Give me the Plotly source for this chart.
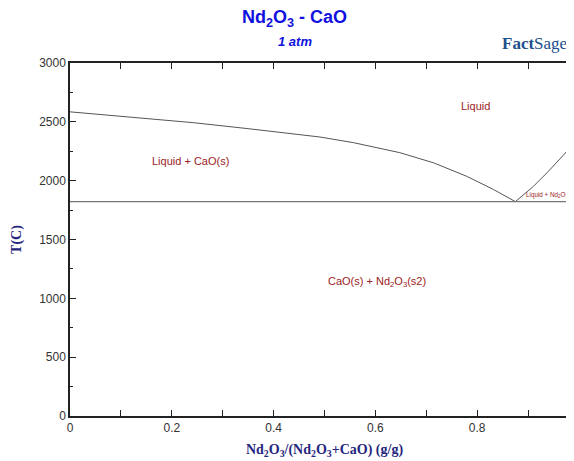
import plotly.graph_objects as go

# CaO-side liquidus (Liquid / Liquid + CaO(s))
liq_cao_x = [0.0, 0.1, 0.242, 0.35, 0.452, 0.491, 0.557, 0.648, 0.714, 0.779, 0.832, 0.875]
liq_cao_T = [2585, 2545, 2493, 2442, 2394, 2371, 2323, 2238, 2152, 2038, 1925, 1822]
# Nd2O3-side liquidus
liq_nd_x = [0.875, 0.91, 0.94, 0.97, 1.0]
liq_nd_T = [1822, 1950, 2080, 2220, 2370]
# eutectic isotherm
eut_x = [0.0, 1.0]
eut_T = [1822, 1822]

x_ticks = [0, 0.2, 0.4, 0.6, 0.8, 1.0]
y_ticks = [0, 500, 1000, 1500, 2000, 2500, 3000]

labels = [
    ("Liquid", 0.796, 2632, 11, "center"),
    ("Liquid + CaO(s)", 0.237, 2166, 11, "center"),
    ("CaO(s) + Nd<sub>2</sub>O<sub>3</sub>(s2)", 0.603, 1136, 11, "center"),
    ("Liquid + Nd<sub>2</sub>O<sub>3</sub>(s2)", 0.892, 1880, 6.3, "left"),
]

fig = go.Figure()
line_style = dict(color="#555555", width=1)
fig.add_trace(go.Scatter(x=liq_cao_x, y=liq_cao_T, mode="lines", line=line_style, showlegend=False, hoverinfo="skip"))
fig.add_trace(go.Scatter(x=liq_nd_x, y=liq_nd_T, mode="lines", line=line_style, showlegend=False, hoverinfo="skip"))
fig.add_trace(go.Scatter(x=eut_x, y=eut_T, mode="lines", line=dict(color="#777777", width=1.2), showlegend=False, hoverinfo="skip"))
# invisible trace on right axis so its ticks render
fig.add_trace(go.Scatter(x=[0], y=[0], yaxis="y2", mode="markers", marker=dict(opacity=0), showlegend=False, hoverinfo="skip"))

for txt, x, y, sz, anchor in labels:
    fig.add_annotation(x=x, y=y, text=txt, showarrow=False, xanchor=anchor,
                       font=dict(family="Liberation Sans, Arial", size=sz, color="#9b1c1c"))

fig.add_annotation(xref="paper", yref="paper", x=0.442, y=1.0, yshift=45, yanchor="middle", showarrow=False,
                   text="<b>Nd<sub>2</sub>O<sub>3</sub> - CaO</b>",
                   font=dict(family="Liberation Sans, Arial", size=18, color="#1010e0"))
fig.add_annotation(xref="paper", yref="paper", x=0.442, y=1.0, yshift=22, yanchor="middle", showarrow=False,
                   text="<b><i>1 atm</i></b>",
                   font=dict(family="Liberation Sans, Arial", size=13, color="#1010e0"))
fig.add_annotation(xref="paper", yref="paper", x=0.845, xanchor="left", y=1.0, yshift=20, yanchor="middle",
                   showarrow=False, text="<b>Fact</b>Sage",
                   font=dict(family="Liberation Serif, Times New Roman", size=17, color="#1c4f8c"))

fig.update_layout(
    width=574, height=461,
    margin=dict(l=62, r=3, t=55, b=53),
    paper_bgcolor="white", plot_bgcolor="white",
    xaxis=dict(range=[0, 1.0], tickvals=x_ticks, ticktext=[str(v) for v in x_ticks],
               ticks="inside", ticklen=6, tickwidth=1.2, tickcolor="#222",
               minor=dict(dtick=0.1, tick0=0, ticks="inside", ticklen=3, tickcolor="#222"),
               showline=True, linecolor="#222", linewidth=1.5, mirror="allticks",
               showgrid=False, zeroline=False,
               tickfont=dict(family="Liberation Sans, Arial", size=12, color="#333"),
               title=dict(text="<b>Nd<sub>2</sub>O<sub>3</sub>/(Nd<sub>2</sub>O<sub>3</sub>+CaO) (g/g)</b>",
                          font=dict(family="Liberation Serif, Times New Roman", size=14, color="#262680"),
                          standoff=10)),
    yaxis=dict(range=[0, 3000], tickvals=y_ticks,
               ticks="inside", ticklen=6, tickwidth=1.2, tickcolor="#222",
               minor=dict(dtick=250, tick0=0, ticks="inside", ticklen=3, tickcolor="#222"),
               showline=True, linecolor="#222", linewidth=1.5,
               showgrid=False, zeroline=False,
               tickfont=dict(family="Liberation Sans, Arial", size=12, color="#333"),
               title=dict(text="<b>T(C)</b>",
                          font=dict(family="Liberation Serif, Times New Roman", size=14, color="#262680"),
                          standoff=14)),
    yaxis2=dict(range=[0, 3000], overlaying="y", side="right", tickvals=y_ticks,
                ticks="inside", ticklen=6, tickcolor="#444", showticklabels=False,
                minor=dict(dtick=250, tick0=0, ticks="inside", ticklen=3, tickcolor="#444"),
                showline=False, showgrid=False, zeroline=False),
)

fig.write_html("out.html")
